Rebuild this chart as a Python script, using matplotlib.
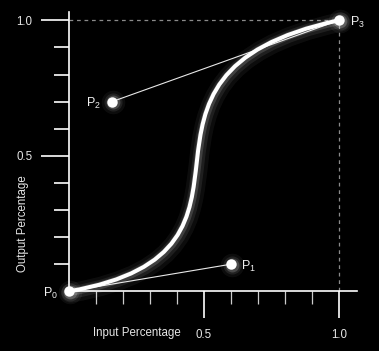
import matplotlib
matplotlib.use('Agg')
import matplotlib.pyplot as plt
from matplotlib.path import Path
from matplotlib.patches import PathPatch
import matplotlib.patheffects as pe

# control points shown on the chart
point_names = ['0', '1', '2', '3']
points_x = [0.0, 0.6, 0.16, 1.0]
points_y = [0.0, 0.1, 0.7, 1.0]

# control points of the drawn curve (estimated from its shape)
curve_x = [0.0, 0.87, 0.06, 1.0]
curve_y = [0.0, 0.15, 0.80, 1.0]

major_ticks = [0.5, 1.0]
major_labels = ['0.5', '1.0']
minor_ticks = [0.1, 0.2, 0.3, 0.4, 0.6, 0.7, 0.8, 0.9]

plt.rcParams['font.family'] = ['Liberation Sans', 'DejaVu Sans']

W, H = 379, 351


def fig_xy(px, py):
    return px / W, 1 - py / H


fig = plt.figure(figsize=(W / 100, H / 100), dpi=100, facecolor='black')
ax = fig.add_axes([69 / W, (H - 291.3) / H, 288 / W, (291.3 - 12) / H])
ax.set_facecolor('black')
ax.set_xlim(0, 288 / 270)
ax.set_ylim(0, 279.3 / 271)

for side in ['top', 'right']:
    ax.spines[side].set_visible(False)
for side in ['left', 'bottom']:
    ax.spines[side].set_color('white')
    ax.spines[side].set_linewidth(1.2)

ax.set_xticks(major_ticks)
ax.set_xticklabels(major_labels)
ax.set_xticks(minor_ticks, minor=True)
ax.set_yticks(major_ticks)
ax.set_yticklabels(major_labels)
ax.set_yticks(minor_ticks, minor=True)

ax.tick_params(axis='x', which='major', direction='out', length=19.5, width=1.2,
               color='white', pad=7.5, labelsize=8.3, labelcolor='#e6e6e6')
ax.tick_params(axis='x', which='minor', direction='out', length=9.5, width=0.9,
               color='#cccccc')
ax.tick_params(axis='y', which='major', direction='out', length=20, width=1.2,
               color='white', pad=6.5, labelsize=8.3, labelcolor='#e6e6e6')
ax.tick_params(axis='y', which='minor', direction='out', length=10.5, width=1.2,
               color='white')

# guide lines to P3
ax.plot([0, points_x[3]], [points_y[3], points_y[3]], color='#8a8a8a', lw=0.9,
        dashes=(3, 3), zorder=1, clip_on=False)
ax.plot([points_x[3], points_x[3]], [0, points_y[3]], color='#8a8a8a', lw=0.9,
        dashes=(3, 3), zorder=1, clip_on=False)

# handles
ax.plot([points_x[0], points_x[1]], [points_y[0], points_y[1]], color='#e8e8e8',
        lw=0.8, zorder=2, clip_on=False)
ax.plot([points_x[2], points_x[3]], [points_y[2], points_y[3]], color='#e8e8e8',
        lw=0.8, zorder=2, clip_on=False)

# the curve with a soft glow
verts = list(zip(curve_x, curve_y))
path = Path(verts, [Path.MOVETO, Path.CURVE4, Path.CURVE4, Path.CURVE4])
glow = [
    pe.SimpleLineShadow(offset=(1.2, -1.2), shadow_color='white', alpha=0.05, linewidth=14),
    pe.SimpleLineShadow(offset=(1.0, -1.0), shadow_color='white', alpha=0.08, linewidth=9),
    pe.SimpleLineShadow(offset=(0.6, -0.6), shadow_color='white', alpha=0.15, linewidth=5.5),
    pe.Normal(),
]
curve = PathPatch(path, fill=False, edgecolor='white', lw=2.9, zorder=3,
                  capstyle='round', clip_on=False)
curve.set_path_effects(glow)
ax.add_patch(curve)

# points with glow
for ms, a in [(17, 0.05), (13, 0.09), (10, 0.18)]:
    ax.plot([x + 0.003 for x in points_x], [y - 0.003 for y in points_y], 'o',
            ms=ms, color='white', alpha=a, mec='none', zorder=4, clip_on=False)
ax.plot(points_x, points_y, 'o', ms=7.5, color='white', mec='none', zorder=5,
        clip_on=False)

# point labels
offsets = [(-8, -1.5, 'right'), (7, -1.5, 'left'), (-8, -1.5, 'right'), (8, -1.5, 'left')]
for name, x, y, (dx, dy, ha) in zip(point_names, points_x, points_y, offsets):
    ax.annotate(r'P$_\mathregular{' + name + '}$', xy=(x, y), xytext=(dx, dy),
                textcoords='offset points', ha=ha, va='center', fontsize=9,
                color='#f0f0f0', zorder=6)

# axis titles
fig.text(*fig_xy(137, 333), 'Input Percentage', ha='center', va='center',
         fontsize=8.3, color='#e6e6e6')
fig.text(*fig_xy(23.5, 224), 'Output Percentage', ha='center', va='center',
         rotation=90, fontsize=8.3, color='#e6e6e6')

fig.savefig('out.png', dpi=100, facecolor='black')
